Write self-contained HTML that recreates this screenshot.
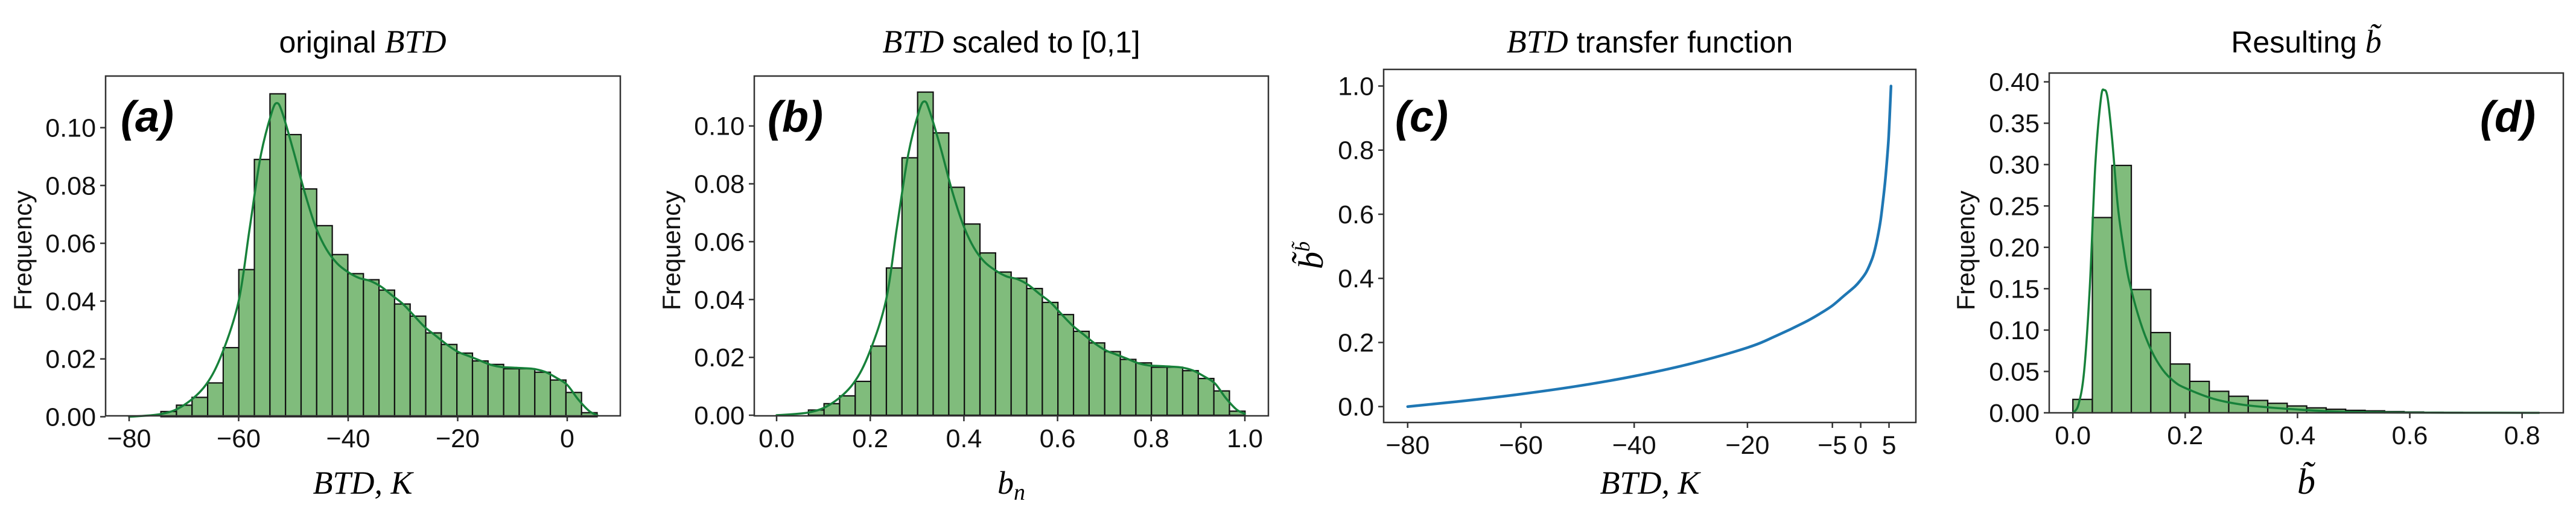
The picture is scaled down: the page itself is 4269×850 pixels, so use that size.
<!DOCTYPE html>
<html><head><meta charset="utf-8"><style>
html,body{margin:0;padding:0;background:#fff;}
svg{display:block;}
.tk{font-family:"Liberation Sans",sans-serif;font-size:43px;fill:#111;}
.tt{font-family:"Liberation Sans",sans-serif;font-size:50px;fill:#000;}
.mi{font-family:"Liberation Serif",serif;font-style:italic;}
.pl{font-family:"Liberation Sans",sans-serif;font-size:72px;font-weight:bold;font-style:italic;fill:#000;}
.yl{font-family:"Liberation Sans",sans-serif;font-size:42px;fill:#111;}
</style></head><body>
<svg id="fig" width="4269" height="850" viewBox="0 0 4269 850" xmlns="http://www.w3.org/2000/svg">
<rect width="4269" height="850" fill="#fff"/>
<text class="tt" x="601" y="87" text-anchor="middle">original <tspan class="mi" font-size="54">BTD</tspan></text>
<text class="tt" x="1676" y="87" text-anchor="middle"><tspan class="mi" font-size="54">BTD</tspan> scaled to [0,1]</text>
<text class="tt" x="2734" y="87" text-anchor="middle"><tspan class="mi" font-size="54">BTD</tspan> transfer function</text>
<text class="tt" x="3822" y="87" text-anchor="middle">Resulting <tspan class="mi" font-size="54">b̃</tspan></text>
<text class="mi" font-size="54" x="601" y="818" text-anchor="middle">BTD, K</text>
<text class="mi" font-size="54" x="1676" y="818" text-anchor="middle">b<tspan font-size="38" dy="10">n</tspan></text>
<text class="mi" font-size="54" x="2734" y="818" text-anchor="middle">BTD, K</text>
<text class="mi" font-size="60" x="3822" y="818" text-anchor="middle">b̃</text>
<text class="yl" transform="translate(52,415) rotate(-90)" text-anchor="middle">Frequency</text>
<text class="yl" transform="translate(1127,415) rotate(-90)" text-anchor="middle">Frequency</text>
<text class="mi" font-size="58" transform="translate(2192,423) rotate(-90)" text-anchor="middle">b̃<tspan font-size="34" dy="-22">b̃</tspan></text>
<text class="yl" transform="translate(3272,415) rotate(-90)" text-anchor="middle">Frequency</text>
<text class="pl" x="200" y="218">(a)</text>
<text class="pl" x="1272" y="218">(b)</text>
<text class="pl" x="2312" y="218">(c)</text>
<text class="pl" x="4110" y="218">(d)</text>
<g id="layer"></g>
</svg>
<script>
const aBinStart = -74.2;
const aBinWidth = 2.845;
const aFreq = [0.0018,0.004,0.0067,0.0117,0.0239,0.0509,0.089,0.1117,0.0976,0.0788,0.0661,0.0561,0.0495,0.0474,0.0438,0.039,0.0348,0.029,0.025,0.022,0.0193,0.0181,0.0166,0.0166,0.0154,0.0127,0.0084,0.0014];
const aKdeX = [-80,-74,-70,-66,-63,-60,-58,-56,-54,-53,-52,-50,-48,-46,-44,-42,-40,-38,-36,-34,-32,-30,-28,-26,-24,-22,-20,-18,-16,-14,-12,-10,-8,-6,-4,-2,0,2,4,5.5];
const aKdeY = [0,0.001,0.004,0.011,0.022,0.04,0.065,0.09,0.105,0.1085,0.105,0.092,0.078,0.066,0.058,0.053,0.05,0.048,0.047,0.045,0.042,0.039,0.035,0.031,0.028,0.025,0.0225,0.021,0.0195,0.018,0.0172,0.017,0.0168,0.0165,0.0155,0.0135,0.011,0.006,0.002,0.0005];
const aXTicks = [-80,-60,-40,-20,0];
const aXLabels = ["−80","−60","−40","−20","0"];
const aYTicks = [0,0.02,0.04,0.06,0.08,0.10];
const aYLabels = ["0.00","0.02","0.04","0.06","0.08","0.10"];

const bBinStart = 0.068;
const bBinWidth = 0.0333;
const bFreq = [0.0018,0.004,0.0067,0.0117,0.0239,0.0509,0.089,0.1117,0.0976,0.0788,0.0661,0.0561,0.0495,0.0474,0.0438,0.039,0.0348,0.029,0.025,0.022,0.0193,0.0181,0.0166,0.0166,0.0154,0.0127,0.0084,0.0014];
const bKdeX = [0,0.070,0.117,0.164,0.199,0.234,0.257,0.281,0.304,0.316,0.327,0.351,0.374,0.398,0.421,0.444,0.468,0.491,0.515,0.538,0.561,0.585,0.608,0.632,0.655,0.678,0.702,0.725,0.749,0.772,0.795,0.819,0.842,0.865,0.889,0.912,0.936,0.959,0.982,1.0];
const bKdeY = [0,0.001,0.004,0.011,0.022,0.04,0.065,0.09,0.105,0.1085,0.105,0.092,0.078,0.066,0.058,0.053,0.05,0.048,0.047,0.045,0.042,0.039,0.035,0.031,0.028,0.025,0.0225,0.021,0.0195,0.018,0.0172,0.017,0.0168,0.0165,0.0155,0.0135,0.011,0.006,0.002,0.0005];
const bXTicks = [0,0.2,0.4,0.6,0.8,1.0];
const bXLabels = ["0.0","0.2","0.4","0.6","0.8","1.0"];
const bYTicks = [0,0.02,0.04,0.06,0.08,0.10];
const bYLabels = ["0.00","0.02","0.04","0.06","0.08","0.10"];

const cX = [-80,-70,-60,-50,-40,-30,-20,-15,-10,-7,-5,-3,-1,0,1,2,2.5,3,3.5,3.9,4.3,4.6,4.9,5.1,5.25,5.35];
const cY = [0,0.018,0.039,0.064,0.095,0.134,0.184,0.22,0.262,0.292,0.315,0.345,0.375,0.395,0.42,0.46,0.49,0.53,0.58,0.636,0.70,0.76,0.83,0.9,0.96,1.0];
const cXTicks = [-80,-60,-40,-20,-5,0,5];
const cXLabels = ["−80","−60","−40","−20","−5","0","5"];
const cYTicks = [0,0.2,0.4,0.6,0.8,1.0];
const cYLabels = ["0.0","0.2","0.4","0.6","0.8","1.0"];

const dBinStart = 0;
const dBinWidth = 0.0347;
const dFreq = [0.0162,0.236,0.299,0.149,0.097,0.059,0.038,0.026,0.020,0.015,0.0115,0.0083,0.006,0.0043,0.003,0.0024,0.0015,0.001,0.0007,0.0005];
const dKdeX = [0,0.01,0.02,0.03,0.04,0.05,0.056,0.062,0.07,0.08,0.09,0.1,0.12,0.14,0.16,0.18,0.2,0.25,0.3,0.35,0.4,0.45,0.5,0.6,0.7,0.83];
const dKdeY = [0,0.01,0.05,0.15,0.3,0.38,0.39,0.38,0.33,0.25,0.2,0.16,0.11,0.075,0.052,0.038,0.03,0.017,0.01,0.0065,0.004,0.002,0.001,0.0003,0.0001,0];
const dXTicks = [0,0.2,0.4,0.6,0.8];
const dXLabels = ["0.0","0.2","0.4","0.6","0.8"];
const dYTicks = [0,0.05,0.10,0.15,0.20,0.25,0.30,0.35,0.40];
const dYLabels = ["0.00","0.05","0.10","0.15","0.20","0.25","0.30","0.35","0.40"];

const NS = "http://www.w3.org/2000/svg";
const layer = document.getElementById('layer');
function mk(tag, attrs, parent){ const e=document.createElementNS(NS,tag); for(const k in attrs) e.setAttribute(k,attrs[k]); (parent||layer).appendChild(e); return e; }
const axA = {sx:v=>214+(v+80)*9.075, sy:v=>690.5-v*4790, l:175,r:1028,t:126,b:689};
const axB = {sx:v=>1287+v*776, sy:v=>688-v*4793, l:1250,r:2102,t:126,b:689};
const axC = {sx:v=>2332.8+(v+80)*9.385, sy:v=>673.7-v*531.2, l:2293,r:3175,t:115,b:700};
const axD = {sx:v=>3435.2+v*930.6, sy:v=>684-v*1371, l:3396,r:4248,t:121,b:684};

function smoothPath(xs, ys){
  let d='';
  for(let i=0;i<xs.length;i++){
    if(i===0){ d+='M'+xs[i]+','+ys[i]; continue; }
    const x0=xs[Math.max(0,i-2)], y0=ys[Math.max(0,i-2)];
    const x1=xs[i-1], y1=ys[i-1], x2=xs[i], y2=ys[i];
    const x3=xs[Math.min(xs.length-1,i+1)], y3=ys[Math.min(xs.length-1,i+1)];
    d+=' C'+(x1+(x2-x0)/6)+','+(y1+(y2-y0)/6)+' '+(x2-(x3-x1)/6)+','+(y2-(y3-y1)/6)+' '+x2+','+y2;
  }
  return d;
}
function drawHist(ax, key, start, width, freq){
  const g = mk('g',{});
  
  
  freq.forEach((f,i)=>{
    const x0=ax.sx(start+i*width), x1=ax.sx(start+(i+1)*width);
    const y=ax.sy(f), y0=ax.sy(0);
    const r = mk('rect',{x:x0,y:y,width:x1-x0,height:y0-y,fill:'#80bc7c',stroke:'#111','stroke-width':2.2},g);
    
    
  });
}
function drawLine(ax, key, xs, ys, color, w, name){
  const p = mk('path',{d:smoothPath(xs.map(ax.sx), ys.map(ax.sy)),fill:'none',stroke:color,'stroke-width':w,'stroke-linejoin':'round','stroke-linecap':'round'});
  
  
}
function drawAxes(ax, key, xt, xl, yt, yl){
  const f = mk('rect',{x:ax.l,y:ax.t,width:ax.r-ax.l,height:ax.b-ax.t,fill:'none',stroke:'#333','stroke-width':2.5});
  
  
  xt.forEach((v,i)=>{
    const x=ax.sx(v);
    mk('line',{x1:x,x2:x,y1:ax.b,y2:ax.b+9,stroke:'#333','stroke-width':2.5});
    const t = mk('text',{x:x,y:ax.b+52,'text-anchor':'middle','class':'tk'});
    t.textContent = xl[i];
    
    
  });
  yt.forEach((v,i)=>{
    const y=ax.sy(v);
    mk('line',{x1:ax.l-9,x2:ax.l,y1:y,y2:y,stroke:'#333','stroke-width':2.5});
    const t = mk('text',{x:ax.l-16,y:y+15,'text-anchor':'end','class':'tk'});
    t.textContent = yl[i];
    
    
  });
}

drawHist(axA,'a',aBinStart,aBinWidth,aFreq);
drawLine(axA,'a',aKdeX,aKdeY,'#17813a',3.5,'kde-line-a');
drawAxes(axA,'a',aXTicks,aXLabels,aYTicks,aYLabels);

drawHist(axB,'b',bBinStart,bBinWidth,bFreq);
drawLine(axB,'b',bKdeX,bKdeY,'#17813a',3.5,'kde-line-b');
drawAxes(axB,'b',bXTicks,bXLabels,bYTicks,bYLabels);

drawLine(axC,'c',cX,cY,'#1f77b4',4.5,'transfer-curve');
drawAxes(axC,'c',cXTicks,cXLabels,cYTicks,cYLabels);

drawHist(axD,'d',dBinStart,dBinWidth,dFreq);
drawLine(axD,'d',dKdeX,dKdeY,'#17813a',3.5,'kde-line-d');
drawAxes(axD,'d',dXTicks,dXLabels,dYTicks,dYLabels);
</script>
</body></html>
